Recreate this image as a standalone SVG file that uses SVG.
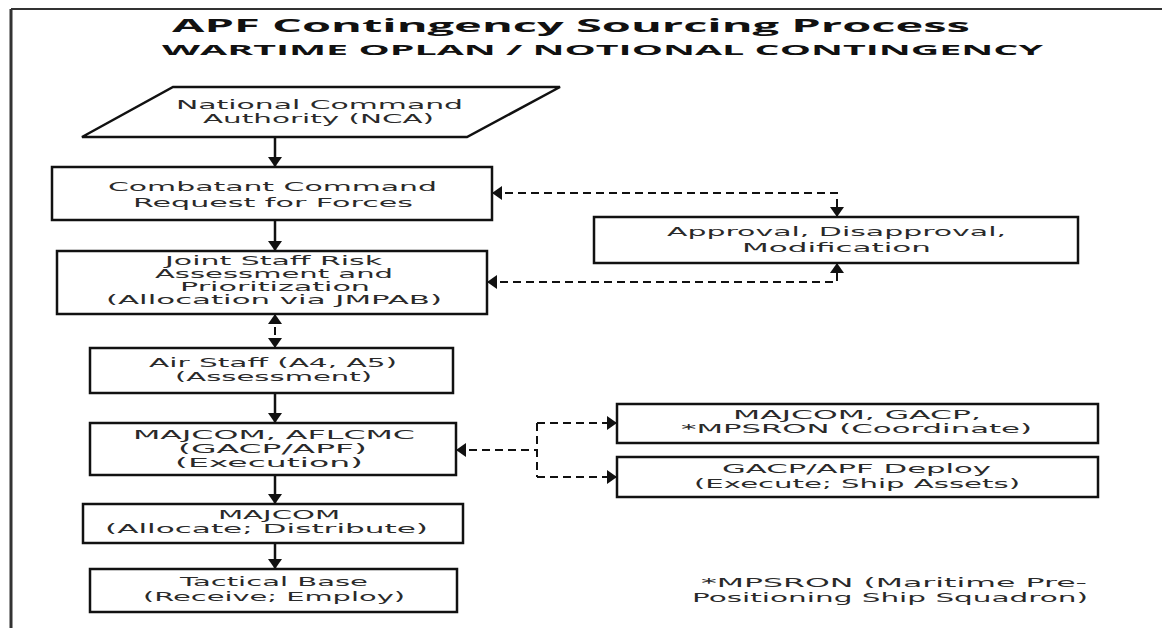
<svg xmlns="http://www.w3.org/2000/svg" width="1162" height="628" viewBox="0 0 1162 628">
<defs>
<style>
.box{fill:#fff;stroke:#111;stroke-width:2.5}
.t{font-family:"DejaVu Sans",Verdana,sans-serif;font-size:12.5px;fill:#2a2a2a}
.title{font-family:"Open Sans","Liberation Sans",sans-serif;font-weight:bold;fill:#111}
.solid{stroke:#111;stroke-width:2.5;fill:none}
.dash{stroke:#111;stroke-width:2;fill:none;stroke-dasharray:8 5}
</style>
<marker id="ah" viewBox="0 0 10 14" refX="10" refY="7" markerWidth="10" markerHeight="14" markerUnits="userSpaceOnUse" orient="auto-start-reverse">
<path d="M0,0 L10,7 L0,14 z" fill="#111"/>
</marker>
</defs>
<rect x="0" y="0" width="1162" height="628" fill="#fff"/>
<g id="frame">
<line x1="11" y1="9" x2="1162" y2="9" stroke="#333" stroke-width="2"/>
<line x1="11" y1="9" x2="11" y2="628" stroke="#333" stroke-width="3"/>
</g>
<g id="titles">
<text class="title" x="172" y="32" font-size="18" textLength="798" lengthAdjust="spacingAndGlyphs">APF Contingency Sourcing Process</text>
<text class="title" x="162" y="55" font-size="14" textLength="881" lengthAdjust="spacingAndGlyphs">WARTIME OPLAN / NOTIONAL CONTINGENCY</text>
</g>
<g id="connectors">
<line class="solid" x1="275" y1="137" x2="275" y2="167" marker-end="url(#ah)"/>
<line class="solid" x1="275" y1="220" x2="275" y2="251" marker-end="url(#ah)"/>
<line class="dash" x1="275" y1="314" x2="275" y2="348" marker-start="url(#ah)" marker-end="url(#ah)"/>
<line class="solid" x1="275" y1="393" x2="275" y2="423" marker-end="url(#ah)"/>
<line class="solid" x1="275" y1="475" x2="275" y2="504" marker-end="url(#ah)"/>
<line class="solid" x1="275" y1="543" x2="275" y2="569" marker-end="url(#ah)"/>
<path class="dash" d="M492,193 H837 V217" marker-start="url(#ah)" marker-end="url(#ah)"/>
<path class="dash" d="M487,282 H837 V263" marker-start="url(#ah)" marker-end="url(#ah)"/>
<line class="dash" x1="456" y1="450" x2="537" y2="450" marker-start="url(#ah)"/>
<line class="dash" x1="537" y1="423" x2="537" y2="477"/>
<line class="dash" x1="537" y1="423" x2="617" y2="423" marker-end="url(#ah)"/>
<line class="dash" x1="537" y1="477" x2="617" y2="477" marker-end="url(#ah)"/>
</g>
<g id="nca">
<polygon class="box" points="173,87 560,87 467,137 82,137"/>
<text class="t" x="176" y="109" textLength="287" lengthAdjust="spacingAndGlyphs">National Command</text>
<text class="t" x="203" y="123" textLength="231" lengthAdjust="spacingAndGlyphs">Authority (NCA)</text>
</g>
<g id="combatant">
<rect class="box" x="52" y="167" width="440" height="53"/>
<text class="t" x="108" y="191" textLength="329" lengthAdjust="spacingAndGlyphs">Combatant Command</text>
<text class="t" x="133" y="207" textLength="280" lengthAdjust="spacingAndGlyphs">Request for Forces</text>
</g>
<g id="joint">
<rect class="box" x="57" y="251" width="430" height="63"/>
<text class="t" x="165" y="265" textLength="217" lengthAdjust="spacingAndGlyphs">Joint Staff Risk</text>
<text class="t" x="155" y="278" textLength="238" lengthAdjust="spacingAndGlyphs">Assessment and</text>
<text class="t" x="180" y="291" textLength="190" lengthAdjust="spacingAndGlyphs">Prioritization</text>
<text class="t" x="106" y="304" textLength="336" lengthAdjust="spacingAndGlyphs">(Allocation via JMPAB)</text>
</g>
<g id="approval">
<rect class="box" x="594" y="217" width="484" height="46"/>
<text class="t" x="667" y="236" textLength="339" lengthAdjust="spacingAndGlyphs">Approval, Disapproval,</text>
<text class="t" x="742" y="252" textLength="189" lengthAdjust="spacingAndGlyphs">Modification</text>
</g>
<g id="airstaff">
<rect class="box" x="90" y="348" width="363" height="45"/>
<text class="t" x="149" y="367" textLength="248" lengthAdjust="spacingAndGlyphs">Air Staff (A4, A5)</text>
<text class="t" x="175" y="381" textLength="197" lengthAdjust="spacingAndGlyphs">(Assessment)</text>
</g>
<g id="aflcmc">
<rect class="box" x="90" y="423" width="366" height="52"/>
<text class="t" x="133" y="439" textLength="282" lengthAdjust="spacingAndGlyphs">MAJCOM, AFLCMC</text>
<text class="t" x="178" y="453" textLength="189" lengthAdjust="spacingAndGlyphs">(GACP/APF)</text>
<text class="t" x="175" y="467" textLength="188" lengthAdjust="spacingAndGlyphs">(Execution)</text>
</g>
<g id="coordinate">
<rect class="box" x="617" y="404" width="481" height="39"/>
<text class="t" x="733" y="419" textLength="248" lengthAdjust="spacingAndGlyphs">MAJCOM, GACP,</text>
<text class="t" x="681" y="433" textLength="351" lengthAdjust="spacingAndGlyphs">*MPSRON (Coordinate)</text>
</g>
<g id="deploy">
<rect class="box" x="617" y="457" width="481" height="40"/>
<text class="t" x="722" y="473" textLength="269" lengthAdjust="spacingAndGlyphs">GACP/APF Deploy</text>
<text class="t" x="694" y="488" textLength="326" lengthAdjust="spacingAndGlyphs">(Execute; Ship Assets)</text>
</g>
<g id="allocate">
<rect class="box" x="83" y="504" width="380" height="39"/>
<text class="t" x="218" y="519" textLength="122" lengthAdjust="spacingAndGlyphs">MAJCOM</text>
<text class="t" x="105" y="533" textLength="323" lengthAdjust="spacingAndGlyphs">(Allocate; Distribute)</text>
</g>
<g id="tactical">
<rect class="box" x="90" y="569" width="367" height="43"/>
<text class="t" x="180" y="586" textLength="188" lengthAdjust="spacingAndGlyphs">Tactical Base</text>
<text class="t" x="143" y="601" textLength="262" lengthAdjust="spacingAndGlyphs">(Receive; Employ)</text>
</g>
<g id="footnote">
<text class="t" x="701" y="587" textLength="386" lengthAdjust="spacingAndGlyphs">*MPSRON (Maritime Pre-</text>
<text class="t" x="692" y="602" textLength="396" lengthAdjust="spacingAndGlyphs">Positioning Ship Squadron)</text>
</g>
</svg>
